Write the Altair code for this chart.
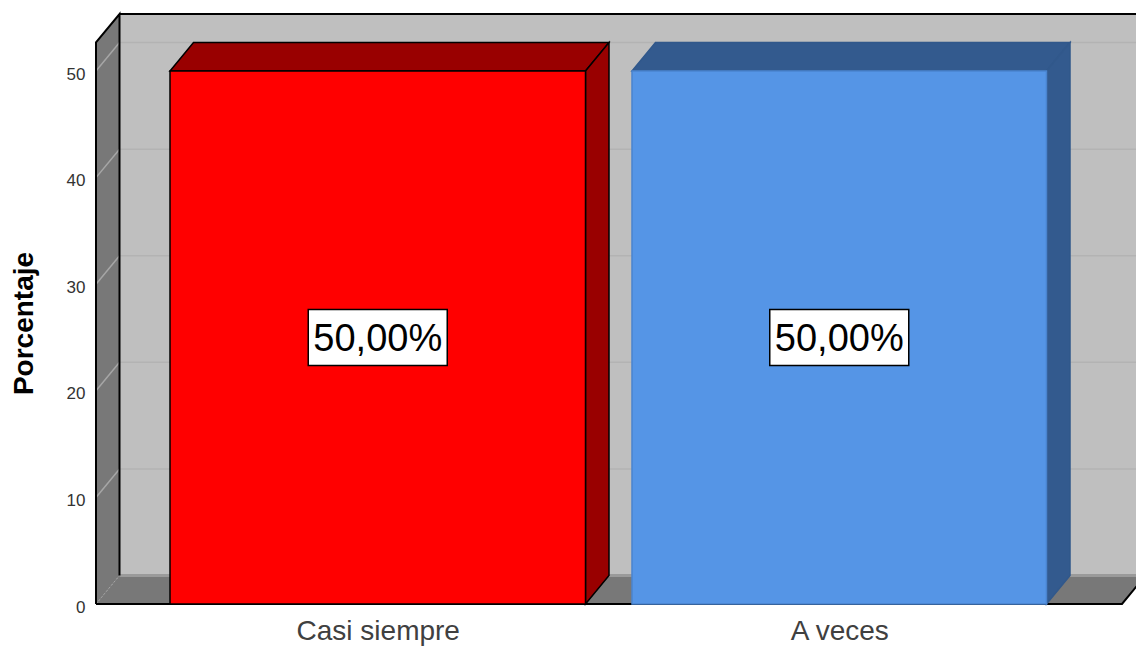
import altair as alt
import pandas as pd

# Chart values
categories = ["Casi siempre", "A veces"]
percentages = [50, 50]
label_texts = ["50,00%", "50,00%"]
y_ticks = [0, 10, 20, 30, 40, 50]

# Geometry of the pseudo-3D box, in scale units
PLOT_W = 1040
PLOT_H = 590
Y_TOP = 55.35
DEPTH_X = 23.5
DEPTH_Y = 2.67
FLOOR_W = 1026
WALL_END = 1080
BAR_SPANS = [(74, 489.5), (536, 950.5)]
BOX_W = 139
BOX_H = 5.25

FRONT = ["#ff0000", "#5595e6"]
FRONT_EDGE = ["#000000", "#4a84cf"]
SHADE = ["#990000", "#335a8e"]
SHADE_EDGE = ["#000000", "#31588b"]
WALL = "#bfbfbf"
SIDE = "#787878"


def slab(face, fill, edge, x0, x1, level):
    """Horizontal parallelogram (floor or bar top) seen from above."""
    return [
        dict(face=face, fill=fill, edge=edge, x=x0, y=level, y2=level),
        dict(face=face, fill=fill, edge=edge, x=x0 + DEPTH_X, y=level, y2=level + DEPTH_Y),
        dict(face=face, fill=fill, edge=edge, x=x1, y=level, y2=level + DEPTH_Y),
        dict(face=face, fill=fill, edge=edge, x=x1 + DEPTH_X, y=level + DEPTH_Y, y2=level + DEPTH_Y),
    ]


def side(face, fill, edge, x, low, high):
    """Vertical parallelogram receding to the back wall."""
    return [
        dict(face=face, fill=fill, edge=edge, x=x, y=low, y2=high),
        dict(face=face, fill=fill, edge=edge, x=x + DEPTH_X, y=low + DEPTH_Y, y2=high + DEPTH_Y),
    ]


wall_top = Y_TOP - DEPTH_Y

shell = pd.DataFrame(
    [dict(face="wall", fill=WALL, edge=WALL, x=DEPTH_X, y=DEPTH_Y, y2=Y_TOP),
     dict(face="wall", fill=WALL, edge=WALL, x=WALL_END, y=DEPTH_Y, y2=Y_TOP)]
    + side("left", SIDE, SIDE, 0, 0, wall_top)
    + slab("floor", SIDE, SIDE, 0, FLOOR_W, 0)
)

bar_rows = []
for i, ((x0, x1), value) in enumerate(zip(BAR_SPANS, percentages)):
    bar_rows += slab(f"top{i}", SHADE[i], SHADE_EDGE[i], x0, x1, value)
    bar_rows += side(f"side{i}", SHADE[i], SHADE_EDGE[i], x1, 0, value)
    bar_rows += [
        dict(face=f"front{i}", fill=FRONT[i], edge=FRONT_EDGE[i], x=x0, y=0, y2=value),
        dict(face=f"front{i}", fill=FRONT[i], edge=FRONT_EDGE[i], x=x1, y=0, y2=value),
    ]
bars = pd.DataFrame(bar_rows)

grid_rows = []
for t in y_ticks[1:]:
    grid_rows += [
        dict(tick=t, part="slant", x=0, y=t),
        dict(tick=t, part="slant", x=DEPTH_X, y=t + DEPTH_Y),
        dict(tick=t, part="back", x=DEPTH_X, y=t + DEPTH_Y),
        dict(tick=t, part="back", x=WALL_END, y=t + DEPTH_Y),
    ]
grid = pd.DataFrame(grid_rows)

x_scale = alt.Scale(domain=[0, PLOT_W], nice=False, zero=False)
y_scale = alt.Scale(domain=[0, Y_TOP], nice=False, zero=False)
centres = [(a + b) / 2 for a, b in BAR_SPANS]
label_expr = " : ".join(
    f"datum.value == {c} ? '{name}'" for c, name in zip(centres, categories)
) + " : ''"

X = alt.X(
    "x:Q",
    scale=x_scale,
    axis=alt.Axis(
        values=centres, labelExpr=label_expr, title=None, grid=False, domain=False,
        ticks=False, labelFont="Liberation Sans", labelFontSize=28, labelColor="#404040",
        labelPadding=13, labelOverlap=False, labelFlush=False,
    ),
)
Y = alt.Y(
    "y:Q",
    scale=y_scale,
    stack=None,
    axis=alt.Axis(
        values=y_ticks, title="Porcentaje", grid=False, domain=False, ticks=False,
        labelFont="Liberation Sans", labelFontSize=17, labelColor="#333333",
        labelPadding=11, labelBaseline="middle", labelOffset=3,
        titleFont="Liberation Sans", titleFontSize=28, titleFontWeight="bold", titleColor="#000000",
        titleX=-72, titleY=309, titleAngle=270, titleAlign="center", titleBaseline="middle",
    ),
)


def polygons(df, width):
    return alt.Chart(df).mark_area(strokeWidth=width, interpolate="linear").encode(
        x=X,
        y=Y,
        y2="y2:Q",
        detail="face:N",
        fill=alt.Fill("fill:N", scale=None),
        stroke=alt.Stroke("edge:N", scale=None),
    )


shell_layer = polygons(shell, 0.5)

grid_layer = alt.Chart(grid).mark_line(strokeWidth=1.5).encode(
    x=alt.X("x:Q", scale=x_scale),
    y=alt.Y("y:Q", scale=y_scale),
    detail=["tick:N", "part:N"],
    color=alt.Color("part:N", scale=alt.Scale(domain=["slant", "back"], range=["#a6a6a6", "#b3b3b3"]), legend=None),
)

# Soft band where the back wall meets the floor
wall_foot = alt.Chart(pd.DataFrame({"x": [DEPTH_X, WALL_END], "y": [DEPTH_Y, DEPTH_Y]})).mark_line(
    color="#9a9a9a", strokeWidth=3
).encode(x=alt.X("x:Q", scale=x_scale), y=alt.Y("y:Q", scale=y_scale))

# Black contour of the box: left panel with back corner, and floor front edges
contour = pd.DataFrame({
    "path": ["a", "a", "a", "a", "c", "c", "c"],
    "n": [0, 1, 2, 3, 0, 1, 2],
    "x": [DEPTH_X, DEPTH_X, 0, 0, 0, FLOOR_W, FLOOR_W + DEPTH_X],
    "y": [DEPTH_Y, Y_TOP, wall_top, 0, 0, 0, DEPTH_Y],
})
contour_layer = alt.Chart(contour).mark_line(color="#000000", strokeWidth=2).encode(
    x=alt.X("x:Q", scale=x_scale),
    y=alt.Y("y:Q", scale=y_scale),
    detail="path:N",
    order="n:Q",
)
top_edge = alt.Chart(pd.DataFrame({"x": [DEPTH_X, WALL_END], "y": [Y_TOP, Y_TOP]})).mark_line(
    color="#000000", strokeWidth=2
).encode(x=alt.X("x:Q", scale=x_scale), y=alt.Y("y:Q", scale=y_scale))

floor_seam = alt.Chart(pd.DataFrame({"x": [0, DEPTH_X], "y": [0, DEPTH_Y]})).mark_line(
    color="#a6a6a6", strokeWidth=1, strokeDash=[2, 2]
).encode(x=alt.X("x:Q", scale=x_scale), y=alt.Y("y:Q", scale=y_scale))

bar_layer = polygons(bars, 1.5)

boxes = pd.DataFrame({
    "x": [c - BOX_W / 2 for c in centres],
    "x2": [c + BOX_W / 2 for c in centres],
    "y": [v / 2 - BOX_H / 2 for v in percentages],
    "y2": [v / 2 + BOX_H / 2 for v in percentages],
})
box_layer = alt.Chart(boxes).mark_rect(fill="#ffffff", stroke="#000000", strokeWidth=1.5).encode(
    x=alt.X("x:Q", scale=x_scale), x2="x2:Q",
    y=alt.Y("y:Q", scale=y_scale), y2="y2:Q",
)

labels = pd.DataFrame({
    "x": centres,
    "y": [v / 2 for v in percentages],
    "t": label_texts,
})
label_layer = alt.Chart(labels).mark_text(
    font="Liberation Sans", fontSize=38, color="#000000", align="center", baseline="middle", dy=2
).encode(x=alt.X("x:Q", scale=x_scale), y=alt.Y("y:Q", scale=y_scale), text="t:N")

chart = (
    alt.layer(
        shell_layer, grid_layer, wall_foot, floor_seam, contour_layer, top_edge,
        bar_layer, box_layer, label_layer,
    )
    .properties(
        width=PLOT_W,
        height=PLOT_H,
        autosize=alt.AutoSizeParams(type="none"),
        padding={"left": 96, "top": 14, "right": 0, "bottom": 42},
        background="#ffffff",
    )
    .configure_view(stroke=None)
)

chart.save("out.html", embed_options={"renderer": "svg", "actions": False})
